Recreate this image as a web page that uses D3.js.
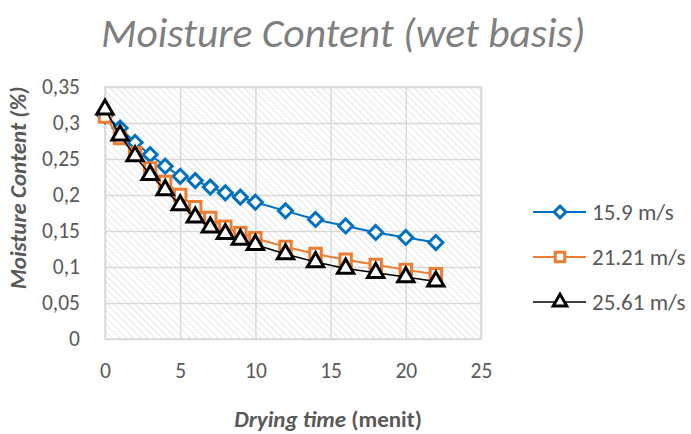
<!DOCTYPE html>
<html>
<head>
<meta charset="utf-8">
<script src="https://cdn.jsdelivr.net/npm/d3@7"></script>
<style>
body { margin: 0; background: #fff; }
svg text { font-family: Carlito, Lato, "Open Sans", sans-serif; }
</style>
</head>
<body>
<div id="graph"></div>
<script>
// drying time (menit) and moisture content for each air speed
const time = [0, 1, 2, 3, 4, 5, 6, 7, 8, 9, 10, 12, 14, 16, 18, 20, 22];
const mc159 = [0.310, 0.293, 0.273, 0.256, 0.240, 0.226, 0.220, 0.211, 0.203, 0.197, 0.190, 0.178, 0.166, 0.157, 0.148, 0.141, 0.134];
const mc2121 = [0.309, 0.279, 0.258, 0.237, 0.218, 0.200, 0.183, 0.168, 0.156, 0.147, 0.140, 0.128, 0.118, 0.110, 0.103, 0.096, 0.090];
const mc2561 = [0.319, 0.283, 0.254, 0.228, 0.207, 0.186, 0.169, 0.155, 0.146, 0.138, 0.131, 0.118, 0.107, 0.098, 0.092, 0.086, 0.080];
const seriesNames = ['15.9 m/s', '21.21 m/s', '25.61 m/s'];
const xTicks = [0, 5, 10, 15, 20, 25];
const yTicks = [0, 0.05, 0.1, 0.15, 0.2, 0.25, 0.3, 0.35];
const yTickLabels = ['0', '0,05', '0,1', '0,15', '0,2', '0,25', '0,3', '0,35'];

let w = 691, h = 434;
let pLeft = 105, pRight = 481, pTop = 87, pBottom = 339;

let svg = d3.select('#graph')
  .append('svg')
  .attr('width', w)
  .attr('height', h);

let x = d3.scaleLinear().domain([0, 25]).range([pLeft, pRight]);
let y = d3.scaleLinear().domain([0, 0.35]).range([pBottom, pTop]);

// hatched plot background
let pat = svg.append('defs').append('pattern')
  .attr('id', 'hatch')
  .attr('patternUnits', 'userSpaceOnUse')
  .attr('width', 5).attr('height', 5)
  .attr('patternTransform', 'rotate(-45)');
pat.append('line')
  .attr('x1', 0).attr('y1', 0).attr('x2', 0).attr('y2', 5)
  .attr('stroke', '#d6d6d6').attr('stroke-width', 1.2);

svg.append('rect')
  .attr('x', pLeft).attr('y', pTop)
  .attr('width', pRight - pLeft).attr('height', pBottom - pTop)
  .attr('fill', 'url(#hatch)');

// grid
svg.append('g')
  .attr('transform', `translate(0,${pBottom})`)
  .call(d3.axisBottom(x).tickValues(xTicks).tickSize(-(pBottom - pTop)).tickFormat(''))
  .call(g => g.select('.domain').remove())
  .selectAll('line').attr('stroke', '#d9d9d9').attr('stroke-width', 1.5);

svg.append('g')
  .attr('transform', `translate(${pLeft},0)`)
  .call(d3.axisLeft(y).tickValues(yTicks).tickSize(-(pRight - pLeft)).tickFormat(''))
  .call(g => g.select('.domain').remove())
  .selectAll('line').attr('stroke', '#d9d9d9').attr('stroke-width', 1.5);

svg.append('rect')
  .attr('x', pLeft).attr('y', pTop)
  .attr('width', pRight - pLeft).attr('height', pBottom - pTop)
  .attr('fill', 'none').attr('stroke', '#d9d9d9').attr('stroke-width', 1.5);

// tick labels
svg.append('g')
  .attr('transform', `translate(0,${pBottom + 21})`)
  .call(d3.axisBottom(x).tickValues(xTicks).tickSize(0))
  .call(g => g.select('.domain').remove())
  .selectAll('text')
  .attr('font-size', 21.5).attr('fill', '#595959')
  .attr('font-family', 'Carlito, Lato, sans-serif');

svg.append('g')
  .attr('transform', `translate(${pLeft - 22},0)`)
  .call(d3.axisLeft(y).tickValues(yTicks).tickSize(0).tickFormat((d, i) => yTickLabels[i]))
  .call(g => g.select('.domain').remove())
  .selectAll('text')
  .attr('font-size', 21.5).attr('fill', '#595959')
  .attr('font-family', 'Carlito, Lato, sans-serif');

// series
let series = [
  {name: seriesNames[0], vals: mc159, color: '#0070c0', sym: d3.symbolDiamond2, size: 125, lw: 2},
  {name: seriesNames[1], vals: mc2121, color: '#ed7d31', sym: d3.symbolSquare2, size: 165, lw: 2},
  {name: seriesNames[2], vals: mc2561, color: '#000000', sym: d3.symbolTriangle2, size: 190, lw: 1.5}
];

let line = d3.line().x(d => x(d[0])).y(d => y(d[1]));

series.forEach(s => {
  let pts = time.map((t, i) => [t, s.vals[i]]);
  let g = svg.append('g');
  g.append('path')
    .attr('d', line(pts))
    .attr('fill', 'none')
    .attr('stroke', s.color)
    .attr('stroke-width', s.lw);
  g.selectAll('path.m')
    .data(pts)
    .enter()
    .append('path')
    .attr('class', 'm')
    .attr('d', d3.symbol(s.sym, s.size))
    .attr('transform', d => `translate(${x(d[0])},${y(d[1])})`)
    .attr('fill', '#fff')
    .attr('stroke', s.color)
    .attr('stroke-width', 3);
});

// legend
let leg = svg.append('g');
series.forEach((s, i) => {
  let ly = 212 + i * 45;
  leg.append('line')
    .attr('x1', 533).attr('x2', 586).attr('y1', ly).attr('y2', ly)
    .attr('stroke', s.color).attr('stroke-width', s.lw);
  leg.append('path')
    .attr('d', d3.symbol(s.sym, s.size * 0.7))
    .attr('transform', `translate(560,${ly})`)
    .attr('fill', '#fff').attr('stroke', s.color).attr('stroke-width', 3);
  leg.append('text')
    .attr('x', 592).attr('y', ly + 8)
    .attr('font-size', 23).attr('fill', '#595959')
    .text(s.name);
});

// titles
svg.append('text')
  .attr('x', 101).attr('y', 47)
  .attr('font-size', 41.5).attr('font-style', 'italic').attr('fill', '#7f7f7f')
  .text('Moisture Content (wet basis)');

svg.append('text')
  .attr('transform', 'translate(26,188) rotate(-90)')
  .attr('text-anchor', 'middle')
  .attr('font-size', 23).attr('font-style', 'italic').attr('font-weight', 'bold')
  .attr('fill', '#595959')
  .text('Moisture Content (%)');

let xt = svg.append('text')
  .attr('x', 328).attr('y', 427)
  .attr('text-anchor', 'middle')
  .attr('font-size', 23).attr('font-weight', 'bold')
  .attr('fill', '#595959');
xt.append('tspan').attr('font-style', 'italic').text('Drying time');
xt.append('tspan').text(' (menit)');
</script>
</body>
</html>
